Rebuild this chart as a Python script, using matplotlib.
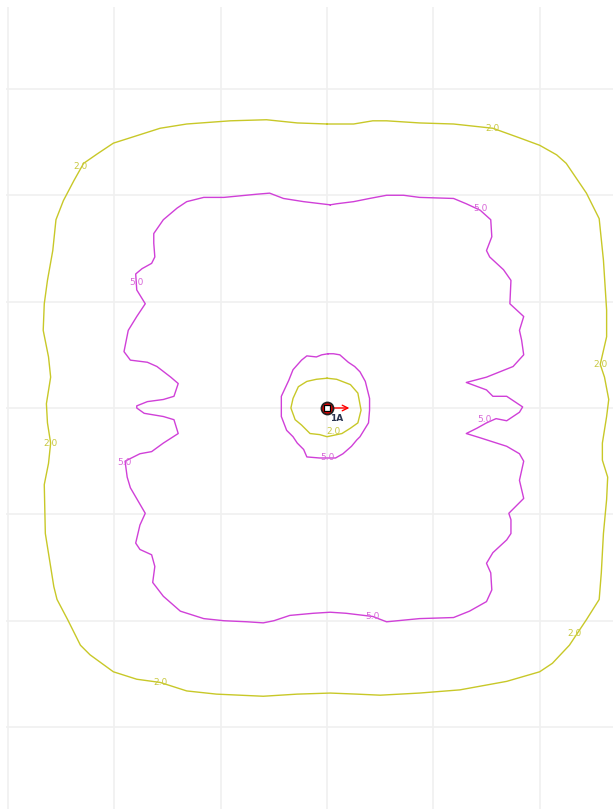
import numpy as np
import matplotlib.pyplot as plt

# contour traces (grid units, source at origin)
outer_2_x = [0.00, -0.28, -0.57, -0.91, -1.32, -1.57, -1.79, -2.01, -2.16, -2.29, -2.38, -2.48, -2.55, -2.58,
             -2.63, -2.66, -2.67, -2.62, -2.60, -2.64, -2.63, -2.60, -2.62, -2.66, -2.65, -2.57, -2.54, -2.44,
             -2.32, -2.23, -2.01, -1.79, -1.57, -1.32, -1.04, -0.60, -0.28, 0.03, 0.28, 0.50, 0.87, 1.25, 1.69,
             2.00, 2.12, 2.28, 2.44, 2.56, 2.58, 2.60, 2.63, 2.64, 2.59, 2.59, 2.63, 2.65, 2.61, 2.57, 2.63,
             2.63, 2.60, 2.56, 2.44, 2.25, 2.16, 2.00, 1.81, 1.56, 1.19, 0.87, 0.56, 0.43, 0.25]
outer_2_y = [2.67, 2.68, 2.71, 2.70, 2.67, 2.63, 2.56, 2.49, 2.39, 2.30, 2.14, 1.95, 1.77, 1.48,
             1.20, 0.98, 0.73, 0.48, 0.29, 0.04, -0.14, -0.33, -0.52, -0.72, -1.18, -1.68, -1.80, -1.99,
             -2.23, -2.32, -2.48, -2.55, -2.58, -2.66, -2.69, -2.71, -2.69, -2.68, -2.69, -2.70, -2.68, -2.65, -2.57,
             -2.48, -2.40, -2.23, -1.99, -1.80, -1.55, -1.18, -0.86, -0.65, -0.49, -0.33, -0.08, 0.08, 0.29, 0.41, 0.67,
             0.92, 1.39, 1.78, 2.02, 2.30, 2.38, 2.47, 2.54, 2.63, 2.67, 2.68, 2.70, 2.70, 2.67]

outer_5_x = [0.03, -0.22, -0.41, -0.54, -0.66, -0.97, -1.16, -1.32, -1.41, -1.54, -1.63, -1.63, -1.62, -1.65,
             -1.74, -1.80, -1.79, -1.71, -1.79, -1.87, -1.91, -1.85, -1.69, -1.60, -1.47, -1.40, -1.44, -1.54,
             -1.69, -1.79, -1.79, -1.72, -1.54, -1.44, -1.40, -1.54, -1.65, -1.76, -1.90, -1.88, -1.85, -1.71,
             -1.76, -1.80, -1.76, -1.65, -1.62, -1.64, -1.54, -1.38, -1.16, -0.97, -0.75, -0.60, -0.50, -0.35,
             -0.13, 0.03, 0.18, 0.43, 0.56, 0.87, 1.19, 1.34, 1.50, 1.55, 1.54, 1.50, 1.56, 1.69, 1.73, 1.73,
             1.71, 1.85, 1.81, 1.85, 1.81, 1.69, 1.44, 1.31, 1.41, 1.50, 1.59, 1.69, 1.81, 1.84, 1.69, 1.56,
             1.50, 1.31, 1.50, 1.75, 1.85, 1.83, 1.81, 1.85, 1.72, 1.73, 1.66, 1.53, 1.50, 1.55, 1.54, 1.44,
             1.31, 1.19, 0.87, 0.72, 0.56, 0.40, 0.25, 0.09]
outer_5_y = [1.91, 1.94, 1.97, 2.02, 2.01, 1.98, 1.98, 1.94, 1.88, 1.77, 1.64, 1.55, 1.42, 1.36,
             1.31, 1.26, 1.11, 0.98, 0.86, 0.73, 0.53, 0.45, 0.43, 0.39, 0.29, 0.23, 0.11, 0.08,
             0.06, 0.02, 0.00, -0.05, -0.08, -0.11, -0.24, -0.33, -0.41, -0.43, -0.50, -0.65, -0.75, -0.99,
             -1.10, -1.27, -1.33, -1.38, -1.49, -1.64, -1.77, -1.91, -1.98, -2.00, -2.01, -2.02, -2.00, -1.95,
             -1.93, -1.92, -1.93, -1.96, -2.01, -1.98, -1.97, -1.91, -1.82, -1.71, -1.55, -1.46, -1.36, -1.24, -1.18, -1.05,
             -0.99, -0.85, -0.68, -0.50, -0.43, -0.36, -0.28, -0.24, -0.19, -0.14, -0.10, -0.12, -0.04, 0.01, 0.11, 0.11,
             0.17, 0.24, 0.29, 0.39, 0.50, 0.64, 0.73, 0.86, 0.98, 1.20, 1.30, 1.42, 1.48, 1.61, 1.77, 1.86,
             1.92, 1.97, 1.98, 2.00, 2.00, 1.97, 1.94, 1.92]

inner_5_x = [0.01, -0.05, -0.10, -0.19, -0.24, -0.32, -0.36, -0.43, -0.43, -0.38, -0.32, -0.28, -0.22, -0.19,
             -0.07, 0.08, 0.15, 0.23, 0.28, 0.31, 0.39, 0.40, 0.40, 0.36, 0.31, 0.26, 0.20, 0.12, 0.06]
inner_5_y = [0.51, 0.50, 0.48, 0.49, 0.45, 0.36, 0.26, 0.11, -0.08, -0.21, -0.27, -0.33, -0.39, -0.46,
             -0.47, -0.47, -0.43, -0.36, -0.30, -0.27, -0.14, -0.02, 0.09, 0.25, 0.34, 0.39, 0.43, 0.50, 0.51]

inner_2_x = [0.00, 0.09, 0.22, 0.29, 0.32, 0.29, 0.22, 0.14, 0.00, -0.07, -0.16, -0.24, -0.30, -0.34,
             -0.32, -0.27, -0.19, -0.10]
inner_2_y = [0.28, 0.27, 0.22, 0.14, -0.02, -0.14, -0.19, -0.24, -0.27, -0.25, -0.24, -0.16, -0.11, 0.00,
             0.09, 0.20, 0.25, 0.27]

# label spots
lab_2_x = [-2.32, -2.60, -1.57, 2.33, 2.57, 1.56, 0.06]
lab_2_y = [2.27, -0.33, -2.58, -2.12, 0.41, 2.63, -0.22]
lab_5_x = [-1.79, -1.91, 0.43, 1.48, 1.44, 0.00]
lab_5_y = [1.18, -0.51, -1.96, -0.11, 1.88, -0.47]

src_x, src_y = 0.0, 0.0
src_name = "1A"

yel = '#c8c828'
mag = '#d040d8'

fig = plt.figure(figsize=(6.13, 8.09), dpi=100)
ax = fig.add_axes([6 / 613, 0, 607 / 613, 802 / 809])
ax.set_xlim(-3.02, 2.69)
ax.set_ylim(-3.77, 3.77)

for g in range(-3, 3):
    ax.axvline(g, color='#f0f0f0', lw=1.2, zorder=0)
for g in range(-3, 4):
    ax.axhline(g, color='#f0f0f0', lw=1.2, zorder=0)

def closed(xs, ys):
    return list(xs) + [xs[0]], list(ys) + [ys[0]]

for xs, ys, c in [(outer_2_x, outer_2_y, yel), (outer_5_x, outer_5_y, mag),
                  (inner_5_x, inner_5_y, mag), (inner_2_x, inner_2_y, yel)]:
    cx, cy = closed(xs, ys)
    ax.plot(cx, cy, color=c, lw=1.0, zorder=2)

for x, y in zip(lab_2_x, lab_2_y):
    ax.text(x, y, "2.0", color='#c8c840', fontsize=6.5, ha='center', va='center', zorder=3)
for x, y in zip(lab_5_x, lab_5_y):
    ax.text(x, y, "5.0", color='#d868d8', fontsize=6.5, ha='center', va='center', zorder=3)

# source
ax.annotate('', xy=(src_x + 0.21, src_y), xytext=(src_x, src_y),
            arrowprops=dict(arrowstyle='->', color='red', lw=1.0, shrinkA=0, shrinkB=0), zorder=4)
ax.scatter([src_x], [src_y], s=75, color='#e00000', edgecolor='#222222', linewidth=1.3, zorder=5)
ax.scatter([src_x], [src_y], s=13, marker='s', color='white', edgecolor='black', linewidth=0.9, zorder=6)
ax.text(src_x + 0.09, src_y - 0.10, src_name, color='#2a3450', fontsize=6.5, fontweight='bold',
        ha='center', va='center', zorder=6)

ax.set_xticks([])
ax.set_yticks([])
for s in ax.spines.values():
    s.set_visible(False)

fig.savefig('out.png', dpi=100)
